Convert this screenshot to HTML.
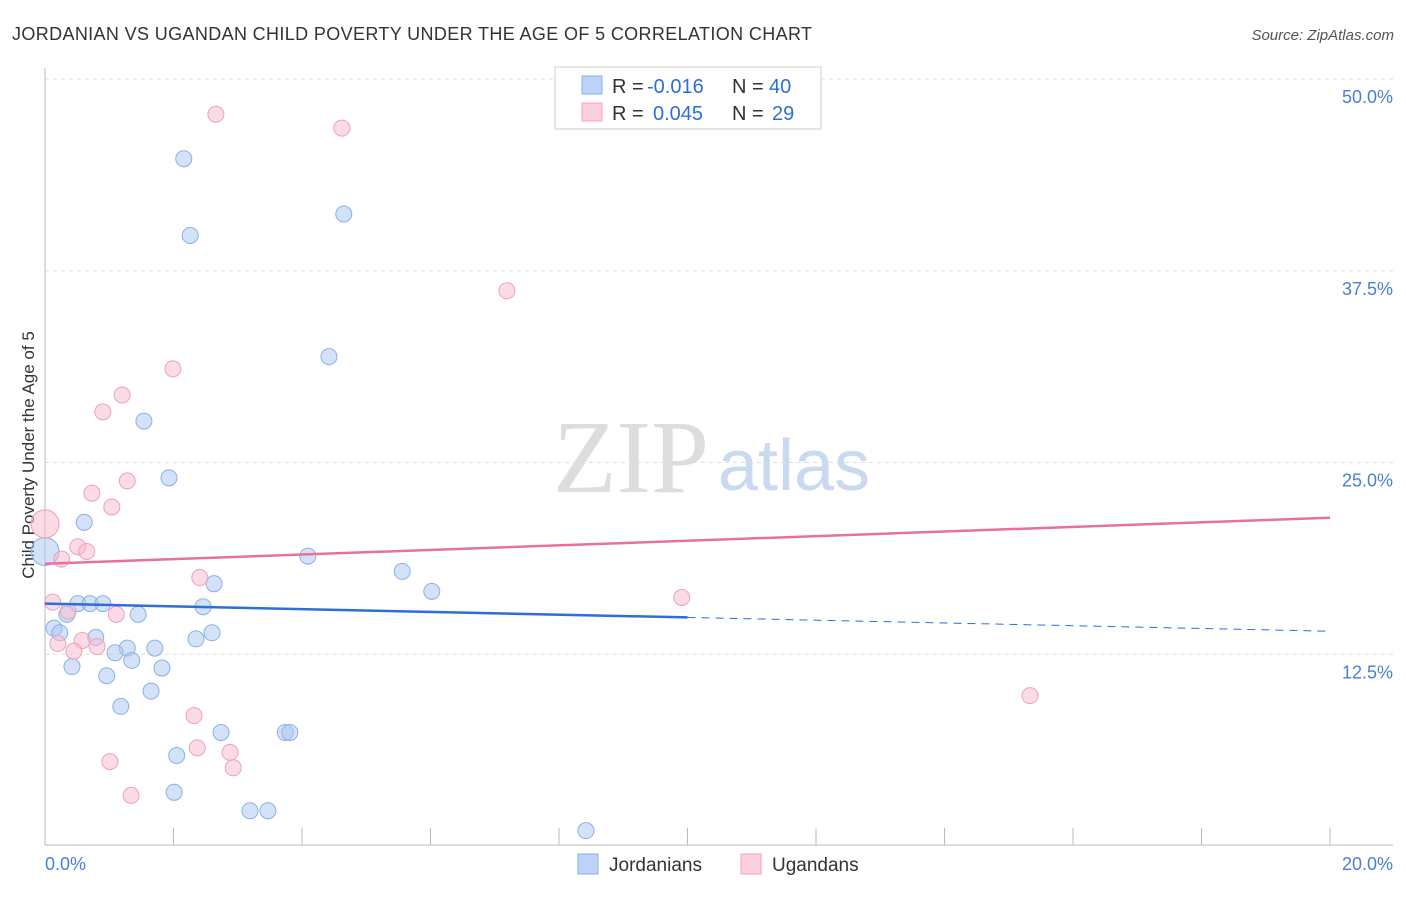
<!DOCTYPE html>
<html><head><meta charset="utf-8"><style>
body{margin:0;background:#fff;font-family:"Liberation Sans",sans-serif}
svg text{font-family:"Liberation Sans",sans-serif}
</style></head><body>
<svg width="1406" height="892" id="c">
<text x="12" y="40" font-size="18" fill="#333" textLength="800" lengthAdjust="spacing">JORDANIAN VS UGANDAN CHILD POVERTY UNDER THE AGE OF 5 CORRELATION CHART</text>
<text x="1394" y="40" font-size="15" fill="#555" text-anchor="end" font-style="italic">Source: ZipAtlas.com</text>
<text x="34" y="455" font-size="17" fill="#333" text-anchor="middle" transform="rotate(-90 34 455)">Child Poverty Under the Age of 5</text>
<text x="553" y="492" font-size="104" fill="#ddd" style="font-family:'Liberation Serif',serif">ZIP</text>
<text x="718" y="490" font-size="72" fill="#c9d9f0">atlas</text>
<g id="grid"></g><g id="pts"></g><g id="lines"></g>
<g>
<rect x="555" y="67" width="266" height="62" fill="#fff" stroke="#ccc"/>
<rect x="582" y="76" width="20" height="18" fill="#bcd3f5" stroke="#8ab0e6"/>
<text x="612" y="93" font-size="20" fill="#333">R =</text>
<text x="647" y="93" font-size="20" fill="#2d6fd6">-0.016</text>
<text x="732" y="93" font-size="20" fill="#333">N =</text>
<text x="769" y="93" font-size="20" fill="#2d6fd6">40</text>
<rect x="582" y="103" width="20" height="18" fill="#fbd0dc" stroke="#f0a0b8"/>
<text x="612" y="120" font-size="20" fill="#333">R =</text>
<text x="653" y="120" font-size="20" fill="#2d6fd6">0.045</text>
<text x="732" y="120" font-size="20" fill="#333">N =</text>
<text x="772" y="120" font-size="20" fill="#2d6fd6">29</text>
</g>
<g>
<rect x="578" y="854" width="20" height="20" fill="#bcd3f5" stroke="#8ab0e6"/>
<text x="609" y="871" font-size="19" fill="#333">Jordanians</text>
<rect x="741" y="854" width="20" height="20" fill="#fbd0dc" stroke="#f0a0b8"/>
<text x="772" y="871" font-size="19" fill="#333">Ugandans</text>
</g>
</svg>
<script>
const blueX=[2.16,2.26,4.65,4.42,1.54,1.93,0.61,0,4.09,5.56,6.02,2.63,0.51,0.70,0.90,2.46,1.45,0.34,0.14,0.23,2.60,2.35,0.79,1.28,1.71,1.09,1.35,0.42,1.82,0.96,1.65,1.18,2.74,3.74,3.81,2.05,2.01,3.19,3.47,8.42];
const blueY=[44.8,39.8,41.2,31.9,27.7,24.0,21.1,19.2,18.9,17.9,16.6,17.1,15.8,15.8,15.8,15.6,15.1,15.1,14.2,13.9,13.9,13.5,13.6,12.9,12.9,12.6,12.1,11.7,11.6,11.1,10.1,9.1,7.4,7.4,7.4,5.9,3.5,2.3,2.3,1.0];
const pinkX=[2.66,4.62,7.19,1.99,1.20,0.90,1.28,0.73,1.04,0,0.51,0.65,0.26,2.41,0.12,0.36,1.11,9.91,0.58,0.20,0.81,0.45,2.32,15.33,2.37,2.88,1.01,2.93,1.34];
const pinkY=[47.7,46.8,36.2,31.1,29.4,28.3,23.8,23.0,22.1,21.0,19.5,19.2,18.7,17.5,15.9,15.3,15.1,16.2,13.4,13.2,13.0,12.7,8.5,9.8,6.4,6.1,5.5,5.1,3.3];
const yTicks=[12.5,25.0,37.5,50.0];
const xTickVals=[0,2,4,6,8,10,12,14,16,18,20];
const blueTrend=[15.8,14.9,14.0];
const pinkTrend=[18.4,21.4];
const NS='http://www.w3.org/2000/svg';
const sx=v=>45+v*64.25, sy=v=>846-v*15.34;
function mk(t,a,p){const e=document.createElementNS(NS,t);for(const k in a)e.setAttribute(k,a[k]);p.appendChild(e);return e;}
const g=document.getElementById('grid');
yTicks.forEach(t=>{const l=mk('line',{x1:45,x2:1393,y1:sy(t),y2:sy(t),stroke:'#ddd','stroke-dasharray':'4,4'},g);


const tx=mk('text',{x:1393,y:sy(t)+24,'font-size':18,fill:'#4a7fd4','text-anchor':'end'},g);tx.textContent=t.toFixed(1)+'%';

});
const ax=mk('line',{x1:45,x2:1393,y1:845,y2:845,stroke:'#bbb'},g);


const ay=mk('line',{x1:45,x2:45,y1:68,y2:845,stroke:'#bbb'},g);


xTickVals.forEach(t=>{const l=mk('line',{x1:sx(t),x2:sx(t),y1:828,y2:845,stroke:'#bbb'},g);

});
[[0,'0.0%','start',45],[20,'20.0%','end',1393]].forEach(a=>{const tx=mk('text',{x:a[3],y:870,'font-size':18,fill:'#4a7fd4','text-anchor':a[2]},g);tx.textContent=a[1];

});
const p=document.getElementById('pts');
function pts(X,Y,f,s,n){X.forEach((x,i)=>{const r=x===0?14:8;const c=mk('circle',{cx:sx(x),cy:sy(Y[i]),r:r,fill:f,stroke:s,'stroke-width':1},p);

});}
pts(blueX,blueY,'rgba(170,198,242,0.5)','#8ab0e6','jordanian-point');
pts(pinkX,pinkY,'rgba(248,185,205,0.5)','#f0a0b8','ugandan-point');
const L=document.getElementById('lines');
const b1=mk('line',{x1:sx(0),y1:sy(blueTrend[0]),x2:sx(10),y2:sy(blueTrend[1]),stroke:'#2d6fd6','stroke-width':2.5},L);


const b2=mk('line',{x1:sx(10),y1:sy(blueTrend[1]),x2:sx(20),y2:sy(blueTrend[2]),stroke:'#2d6fd6','stroke-width':1,'stroke-dasharray':'8,6'},L);


const p1=mk('line',{x1:sx(0),y1:sy(pinkTrend[0]),x2:sx(20),y2:sy(pinkTrend[1]),stroke:'#e8709a','stroke-width':2.5},L);


</script>
</body></html>
